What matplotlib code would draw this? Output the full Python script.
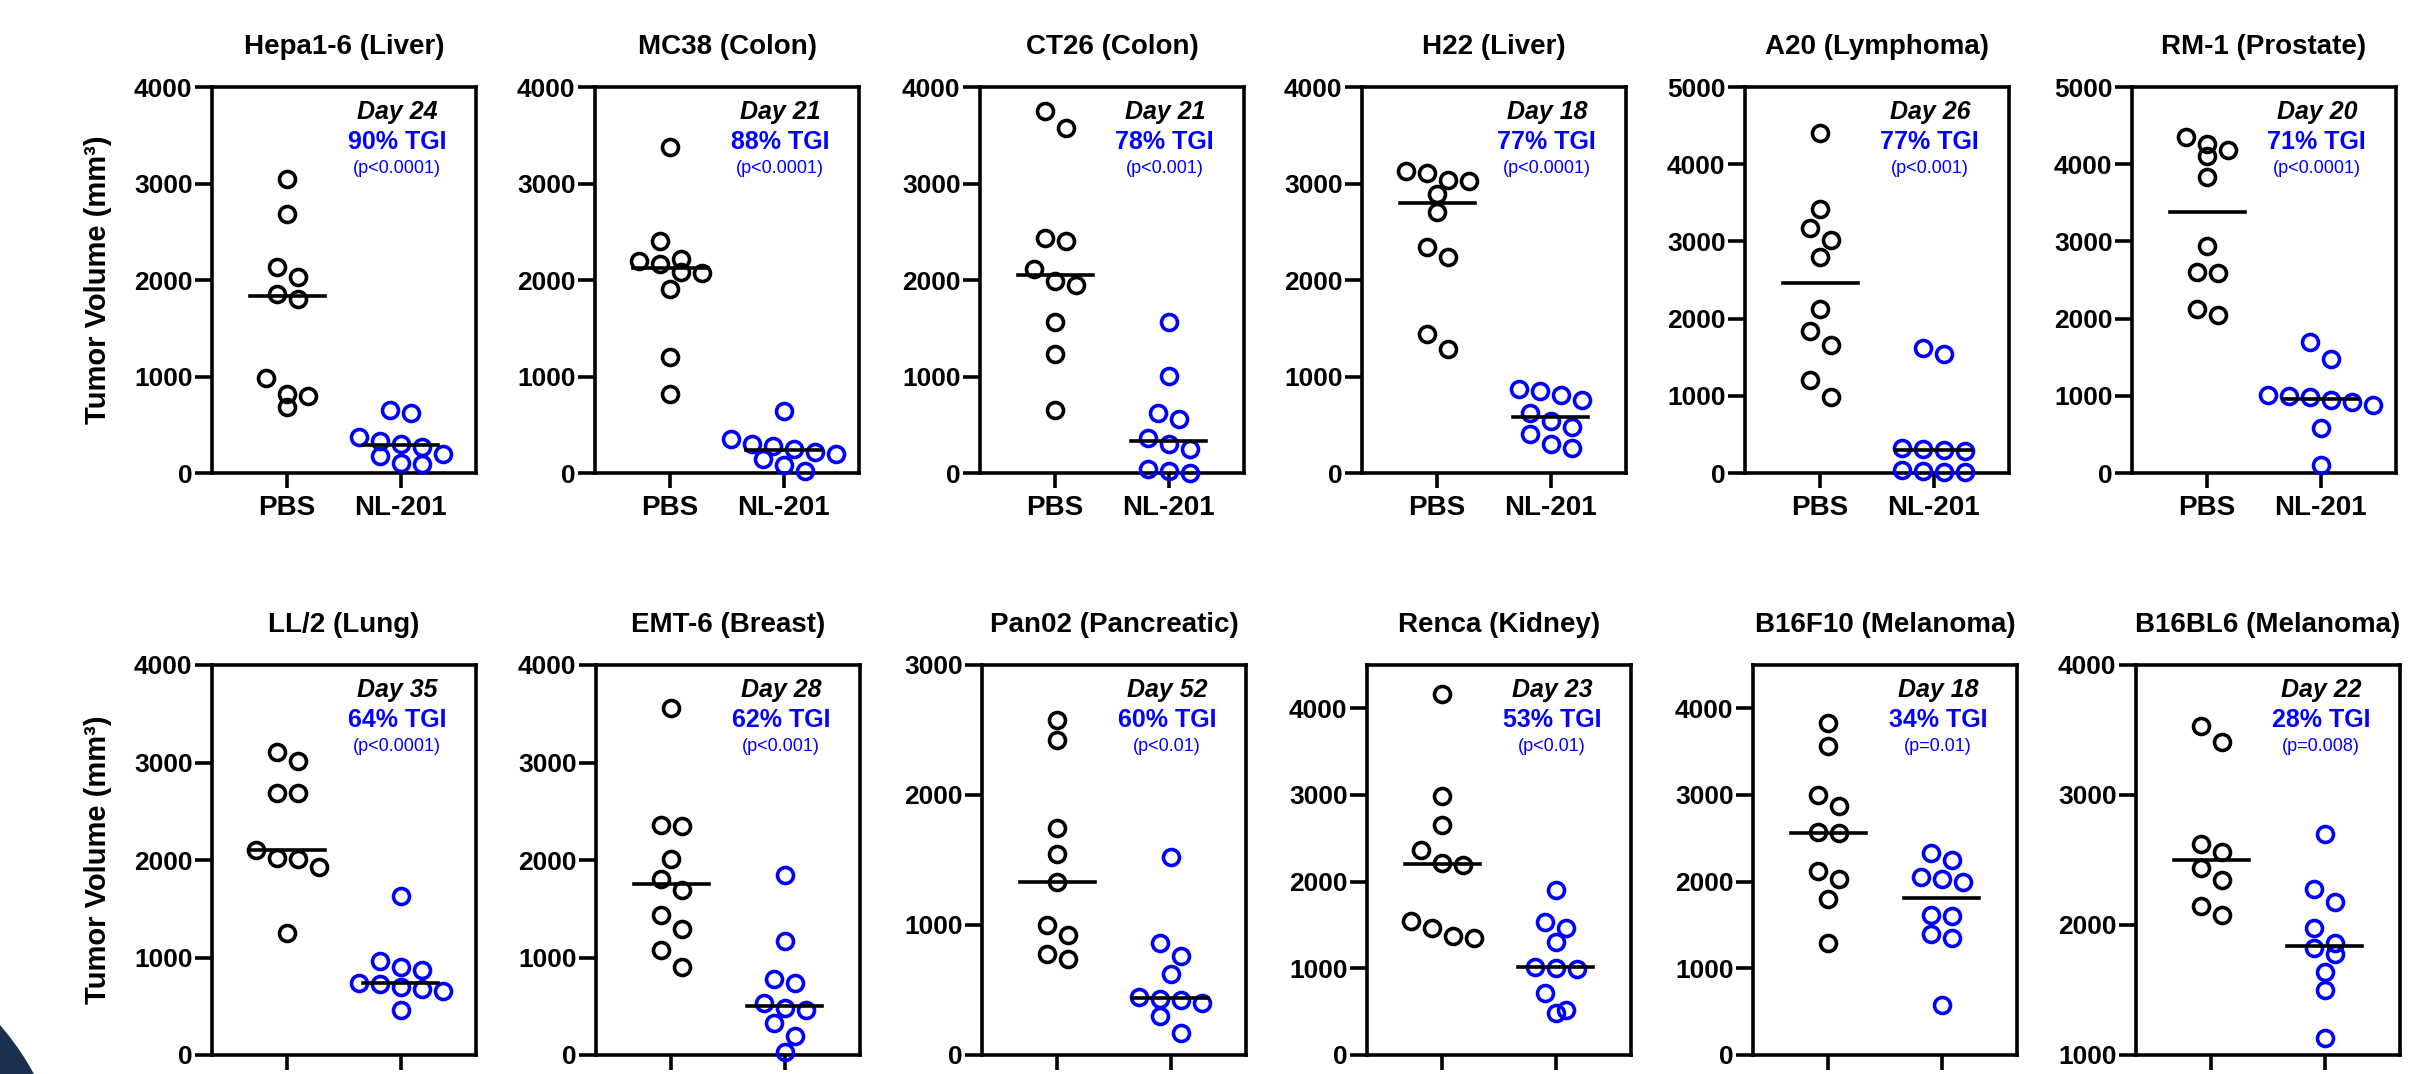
import matplotlib.pyplot as plt
import numpy as np
from matplotlib.patches import Ellipse

plt.rcParams['font.family'] = ['Liberation Sans', 'DejaVu Sans']

# ---- data ----
models = ['Hepa1-6 (Liver)', 'MC38 (Colon)', 'CT26 (Colon)', 'H22 (Liver)',
          'A20 (Lymphoma)', 'RM-1 (Prostate)',
          'LL/2 (Lung)', 'EMT-6 (Breast)', 'Pan02 (Pancreatic)', 'Renca (Kidney)',
          'B16F10 (Melanoma)', 'B16BL6 (Melanoma)']
days = [24, 21, 21, 18, 26, 20, 35, 28, 52, 23, 18, 22]
tgi = [90, 88, 78, 77, 77, 71, 64, 62, 60, 53, 34, 28]
pvals = ['(p<0.0001)', '(p<0.0001)', '(p<0.001)', '(p<0.0001)', '(p<0.001)', '(p<0.0001)',
         '(p<0.0001)', '(p<0.001)', '(p<0.01)', '(p<0.01)', '(p=0.01)', '(p=0.008)']
groups = ['PBS', 'NL-201']

pbs = [
    [3050, 2680, 2130, 2030, 1860, 1800, 980, 820, 800, 680],
    [3380, 2400, 2220, 2200, 2170, 2080, 2070, 1910, 1200, 820],
    [3750, 3570, 2440, 2400, 2110, 1990, 1950, 1560, 1230, 650],
    [3130, 3110, 3040, 3030, 2890, 2700, 2340, 2240, 1440, 1280],
    [4400, 3420, 3180, 3020, 2800, 2120, 1840, 1660, 1210, 980],
    [4350, 4260, 4190, 4100, 3830, 2940, 2600, 2590, 2120, 2050],
    [3110, 3020, 2690, 2690, 2100, 2020, 2010, 1930, 1250],
    [3560, 2360, 2350, 2010, 1810, 1690, 1440, 1290, 1080, 900],
    [2580, 2420, 1750, 1550, 1330, 1000, 920, 780, 740],
    [4160, 2990, 2650, 2370, 2220, 2190, 1550, 1460, 1370, 1350],
    [3830, 3560, 3000, 2870, 2570, 2560, 2120, 2030, 1800, 1290],
    [3530, 3410, 2620, 2560, 2440, 2350, 2150, 2080],
]
nl201 = [
    [650, 620, 370, 330, 300, 270, 200, 180, 100, 90],
    [640, 350, 300, 280, 250, 220, 200, 150, 80, 20],
    [1560, 1010, 620, 560, 360, 300, 250, 40, 20, 0],
    [870, 850, 810, 760, 620, 540, 480, 400, 300, 260],
    [1620, 1540, 330, 310, 300, 290, 40, 25, 15, 10],
    [1700, 1480, 1010, 1000, 980, 950, 920, 880, 580, 100],
    [1630, 960, 900, 870, 740, 730, 700, 680, 660, 460],
    [1850, 1170, 780, 740, 530, 480, 460, 330, 200, 30],
    [1520, 860, 760, 620, 450, 430, 420, 400, 300, 170],
    [1900, 1530, 1460, 1300, 1020, 1000, 990, 710, 520, 480],
    [2330, 2250, 2050, 2030, 2000, 1620, 1600, 1400, 1350, 580],
    [2700, 2280, 2180, 1980, 1860, 1820, 1780, 1640, 1500, 1130],
]
ylims = [(0, 4000), (0, 4000), (0, 4000), (0, 4000), (0, 5000), (0, 5000),
         (0, 4000), (0, 4000), (0, 3000), (0, 4500), (0, 4500), (1000, 4000)]
ytick_top = [4000, 4000, 4000, 4000, 5000, 5000, 4000, 4000, 3000, 4000, 4000, 4000]

# ---- layout (pixels of the 2419x1074 canvas) ----
W, H = 2419, 1074
fig = plt.figure(figsize=(W / 100, H / 100), dpi=100)
lefts = [212, 595, 980, 1362, 1745, 2132, 212, 596, 982, 1367, 1753, 2136]
tops = [87] * 6 + [665] * 6
bottoms = [473] * 6 + [1055] * 6
aw = 264
xlo, xhi = -0.66, 1.66
colors = ['black', 'blue']


def swarm(vals, ppu, diam=18, step=21):
    # simple row-centred beeswarm, offsets returned in pixels
    vals = np.asarray(vals, float)
    order = np.argsort(vals)[::-1]
    rows = []
    for i in order:
        if rows and (vals[rows[-1][0]] - vals[i]) * ppu < diam:
            rows[-1].append(i)
        else:
            rows.append([i])
    off = np.zeros(len(vals))
    for r in rows:
        n = len(r)
        for k, i in enumerate(r):
            off[i] = (k - (n - 1) / 2) * step
    return off


for i in range(12):
    ax = fig.add_axes([lefts[i] / W, 1 - bottoms[i] / H, aw / W, (bottoms[i] - tops[i]) / H])
    y0, y1 = ylims[i]
    ppu = (bottoms[i] - tops[i]) / (y1 - y0)
    xppu = aw / (xhi - xlo)
    for g, vals in enumerate([pbs[i], nl201[i]]):
        off = swarm(vals, ppu) / xppu
        ax.plot(g + off, vals, 'o', mfc='none', mec=colors[g], ms=11.5, mew=2.6,
                clip_on=False, zorder=3)
        med = np.median(vals)
        ax.plot([g - 0.33, g + 0.33], [med, med], color='black', lw=2.6, zorder=4)

    ax.set_xlim(xlo, xhi)
    ax.set_ylim(y0, y1)
    ax.set_yticks(np.arange(y0, ytick_top[i] + 1, 1000))
    ax.set_xticks([0, 1])
    ax.set_xticklabels(groups)
    for s in ax.spines.values():
        s.set_linewidth(2.6)
    ax.tick_params(axis='y', length=12, width=2.6, labelsize=19, pad=2)
    ax.tick_params(axis='x', length=11, width=2.6, labelsize=20, pad=5)
    for lab in ax.get_xticklabels() + ax.get_yticklabels():
        lab.set_fontweight('bold')
    if i >= 6:
        ax.tick_params(axis='x', labelbottom=False)

    ax.set_title(models[i], fontsize=20, fontweight='bold', pad=24)
    ax.text(0.70, 0.935, f'Day {days[i]}', transform=ax.transAxes, ha='center', va='center',
            fontsize=18, fontweight='bold', fontstyle='italic')
    ax.text(0.70, 0.858, f'{tgi[i]}% TGI', transform=ax.transAxes, ha='center', va='center',
            fontsize=18, fontweight='bold', color='blue')
    ax.text(0.70, 0.79, pvals[i], transform=ax.transAxes, ha='center', va='center',
            fontsize=13, color='blue')
    if i % 6 == 0:
        ax.set_ylabel('Tumor Volume (mm³)', fontsize=21, fontweight='bold')
        ax.yaxis.set_label_coords(-0.38, 0.5)

# dark corner shape at bottom left
fig.patches.append(Ellipse((-200 / W, -126 / H), 530 / W, 530 / H, transform=fig.transFigure,
                           color='#1b2f4e', zorder=0))

fig.savefig('out.png', dpi=100)
